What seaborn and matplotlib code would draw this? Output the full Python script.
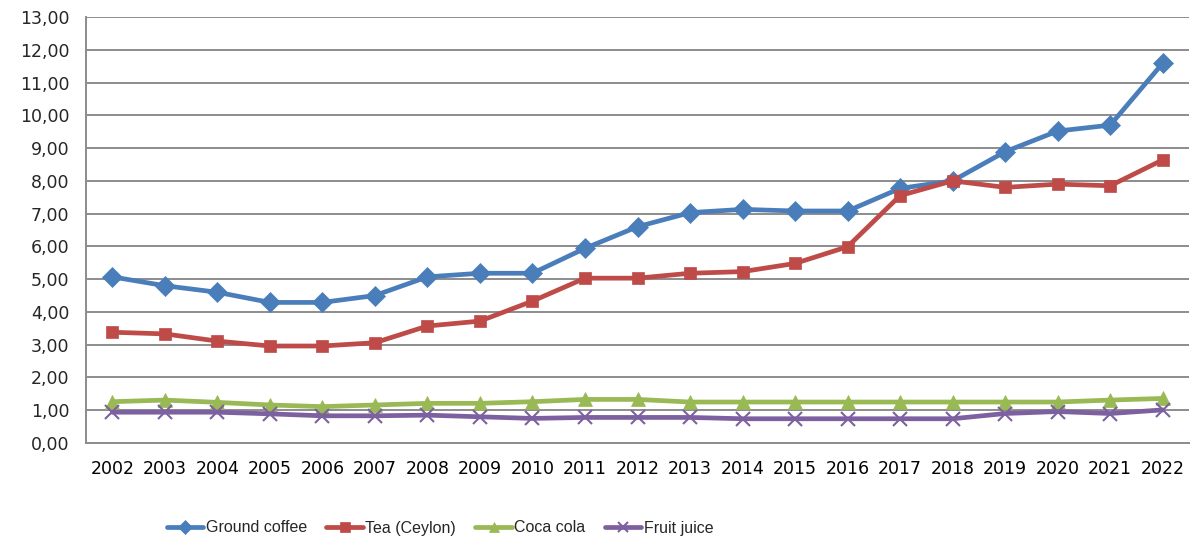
import pandas as pd
import matplotlib
matplotlib.use('Agg')
import matplotlib.pyplot as plt
import seaborn as sns
from matplotlib.ticker import FuncFormatter, MultipleLocator, FixedLocator

sns.set_style('white')
plt.rcParams['font.family'] = ['DejaVu Sans']

# Dados
anos = [str(a) for a in range(2002, 2023)]
cafe = [5.07, 4.80, 4.60, 4.29, 4.29, 4.50, 5.07, 5.18, 5.18, 5.94, 6.60,
        7.03, 7.13, 7.08, 7.08, 7.77, 8.00, 8.89, 9.52, 9.70, 11.59]
cha = [3.38, 3.33, 3.11, 2.96, 2.96, 3.06, 3.57, 3.72, 4.33, 5.03, 5.03,
       5.18, 5.23, 5.48, 5.99, 7.55, 8.00, 7.80, 7.90, 7.85, 8.64]
coca = [1.26, 1.31, 1.24, 1.16, 1.11, 1.16, 1.21, 1.21, 1.26, 1.33, 1.33,
        1.25, 1.25, 1.25, 1.25, 1.25, 1.25, 1.25, 1.25, 1.31, 1.36]
suco = [0.94, 0.94, 0.94, 0.89, 0.83, 0.83, 0.85, 0.80, 0.75, 0.78, 0.78,
        0.78, 0.74, 0.74, 0.74, 0.74, 0.74, 0.90, 0.96, 0.90, 1.01]

series = [
    ('Ground coffee', cafe, '#4A7EBB', 'D', 10),
    ('Tea (Ceylon)', cha, '#BE4B48', 's', 9),
    ('Coca cola', coca, '#98B954', '^', 10),
    ('Fruit juice', suco, '#7D60A0', 'x', 10),
]

fig = plt.figure(figsize=(11.95, 5.45), dpi=100)
ax = fig.add_axes([86 / 1195, 1 - 443 / 545, (1189 - 86) / 1195, (443 - 17) / 545])

for nome, valores, cor, marcador, tam in series:
    df = pd.DataFrame({'Ano': anos, 'Valor': valores})
    sns.lineplot(data=df, x='Ano', y='Valor', ax=ax, color=cor, linewidth=3.4,
                 marker=marcador, markersize=tam, markeredgecolor=cor,
                 markerfacecolor=cor, markeredgewidth=1.5 if marcador == 'x' else 0.5,
                 label=nome)

# Eixos
ax.set_ylim(0, 13)
ax.set_xlim(-0.5, len(anos) - 0.5)
ax.yaxis.set_major_locator(MultipleLocator(1))
ax.yaxis.set_major_formatter(FuncFormatter(lambda v, p: f'{v:.2f}'.replace('.', ',')))
ax.grid(axis='y', color='#8C8C8C', linewidth=1.4)
ax.set_axisbelow(True)
ax.set_xlabel('')
ax.set_ylabel('')

ax.xaxis.set_minor_locator(FixedLocator([i - 0.5 for i in range(len(anos) + 1)]))
ax.tick_params(axis='x', which='major', length=0, pad=12, labelsize=12.5, colors='black')
ax.tick_params(axis='x', which='minor', length=7, width=1.4, color='#8C8C8C')
ax.tick_params(axis='y', length=8, width=1.4, color='#8C8C8C', labelsize=12.5, pad=4)

for lado in ['top', 'right']:
    ax.spines[lado].set_visible(False)
for lado in ['left', 'bottom']:
    ax.spines[lado].set_color('#8C8C8C')
    ax.spines[lado].set_linewidth(1.4)

leg = ax.legend(loc='center', bbox_to_anchor=(440 / 1195, 1 - 528 / 545),
                bbox_transform=fig.transFigure, ncol=4, frameon=False,
                handlelength=2.3, columnspacing=1.2, handletextpad=0.15,
                markerscale=0.75, prop={'family': 'Liberation Sans', 'size': 11.5})

fig.savefig('out.png', dpi=100)
